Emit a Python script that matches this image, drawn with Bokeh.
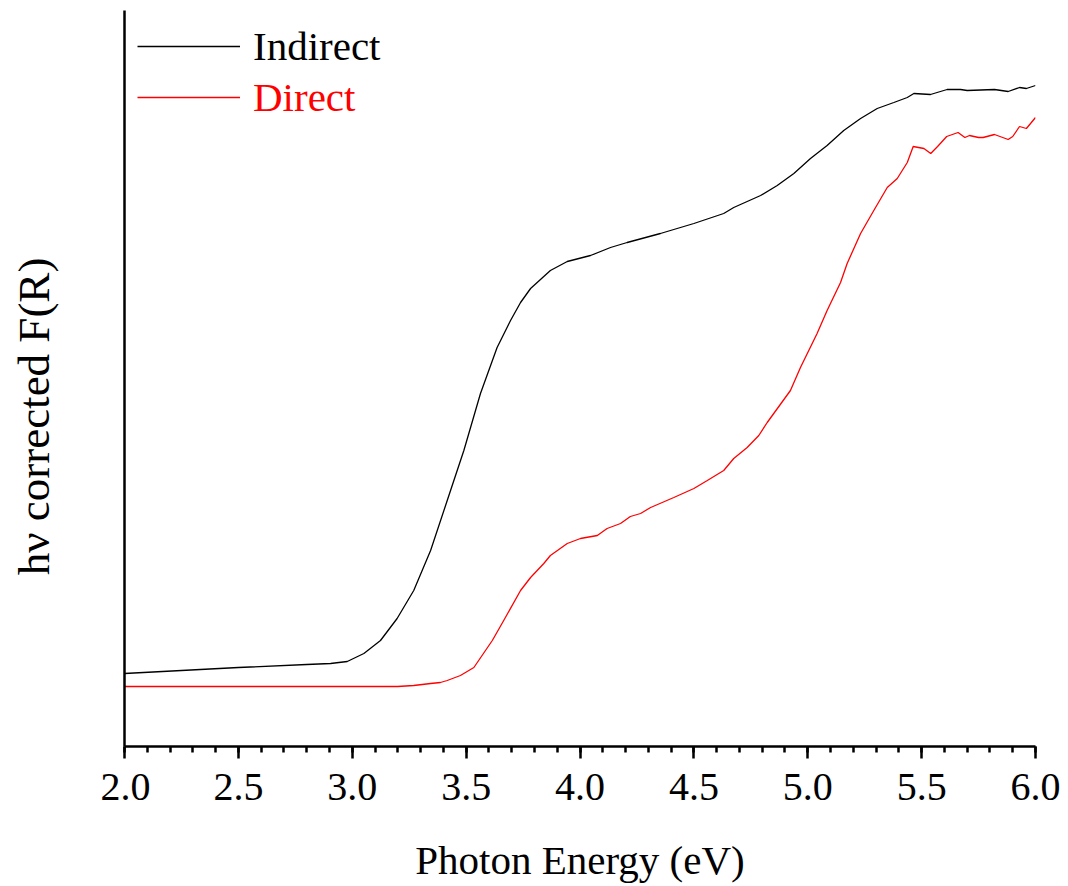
import numpy as np
from bokeh.plotting import figure
from bokeh.layouts import row
from bokeh.models import (FixedTicker, PrintfTickFormatter, Legend, LegendItem,
                          Range1d, Label)
from bokeh.embed import file_html
from bokeh.resources import INLINE

FONT = "Liberation Serif"

# Indirect (black) series
indirect_x = [2.000, 2.500, 2.800, 2.905, 2.978, 3.051, 3.124, 3.197, 3.270, 3.344,
              3.417, 3.490, 3.563, 3.636, 3.695, 3.739, 3.783, 3.870, 3.944, 4.046,
              4.134, 4.207, 4.353, 4.500, 4.631, 4.675, 4.793, 4.866, 4.939, 5.012,
              5.085, 5.158, 5.232, 5.305, 5.378, 5.437, 5.466, 5.539, 5.568, 5.612,
              5.671, 5.700, 5.820, 5.880, 5.930, 5.960, 6.000]
indirect_y = [0.73, 0.79, 0.82, 0.83, 0.85, 0.93, 1.06, 1.28, 1.56, 1.96,
              2.46, 2.96, 3.53, 3.99, 4.26, 4.44, 4.58, 4.76, 4.85, 4.91,
              4.99, 5.04, 5.13, 5.23, 5.33, 5.39, 5.51, 5.61, 5.73, 5.88,
              6.01, 6.16, 6.28, 6.38, 6.44, 6.49, 6.53, 6.52, 6.54, 6.57,
              6.57, 6.56, 6.57, 6.55, 6.59, 6.58, 6.61]

# Direct (red) series
direct_x = [2.000, 2.905, 3.199, 3.270, 3.344, 3.387, 3.417, 3.475, 3.534, 3.615,
            3.665, 3.739, 3.783, 3.841, 3.870, 3.944, 4.002, 4.076, 4.119, 4.178,
            4.221, 4.266, 4.310, 4.412, 4.500, 4.559, 4.631, 4.675, 4.734, 4.785,
            4.822, 4.924, 4.968, 5.041, 5.085, 5.144, 5.173, 5.232, 5.290, 5.349,
            5.393, 5.437, 5.463, 5.510, 5.540, 5.570, 5.610, 5.660, 5.690, 5.710,
            5.750, 5.770, 5.820, 5.880, 5.900, 5.930, 5.960, 6.000]
direct_y = [0.60, 0.60, 0.60, 0.61, 0.63, 0.64, 0.66, 0.71, 0.79, 1.06,
            1.26, 1.56, 1.69, 1.83, 1.91, 2.03, 2.08, 2.11, 2.18, 2.23,
            2.30, 2.33, 2.39, 2.49, 2.58, 2.66, 2.76, 2.88, 2.99, 3.11,
            3.24, 3.56, 3.79, 4.13, 4.36, 4.64, 4.83, 5.13, 5.36, 5.59,
            5.68, 5.84, 6.00, 5.98, 5.93, 6.00, 6.10, 6.14, 6.09, 6.11,
            6.09, 6.09, 6.12, 6.07, 6.10, 6.20, 6.18, 6.29]

major_ticks = [2.0, 2.5, 3.0, 3.5, 4.0, 4.5, 5.0, 5.5, 6.0]
minor_ticks = [round(2.0 + 0.1 * i, 1) for i in range(41)]

# ---- narrow figure holding the y-axis title ----
lab_fig = figure(width=100, height=886, output_backend="svg", toolbar_location=None,
                 x_range=Range1d(0, 1), y_range=Range1d(0, 1),
                 x_axis_location=None, y_axis_location=None,
                 min_border=0, min_border_left=0, min_border_right=0,
                 min_border_top=0, min_border_bottom=0)
lab_fig.outline_line_color = None
lab_fig.grid.visible = False
lab_fig.background_fill_color = "white"
lab_fig.border_fill_color = "white"
ylab = Label(x=33, y=330, x_units="screen", y_units="screen",
             text="hν corrected F(R)", angle=np.pi / 2,
             text_font=FONT, text_font_size="45px", text_color="black",
             text_align="center", text_baseline="middle")
lab_fig.add_layout(ylab)

# ---- main chart ----
p = figure(width=968, height=886, output_backend="svg", toolbar_location=None,
           x_range=Range1d(2.0, 6.0), y_range=Range1d(0, 7.36),
           min_border_left=24, min_border_right=33, min_border_top=10,
           min_border_bottom=140)
p.background_fill_color = "white"
p.border_fill_color = "white"
p.outline_line_color = None
p.grid.visible = False

r_ind = p.line(indirect_x, indirect_y, line_color="black", line_width=1.3)
r_dir = p.line(direct_x, direct_y, line_color="#ff0000", line_width=1.3)

# x axis
xa = p.xaxis[0]
xa.ticker = FixedTicker(ticks=major_ticks, minor_ticks=minor_ticks)
xa.formatter = PrintfTickFormatter(format="%.1f")
xa.axis_line_width = 2.5
xa.major_tick_line_width = 2.5
xa.minor_tick_line_width = 2.5
xa.major_tick_out = 12
xa.major_tick_in = 0
xa.minor_tick_out = 6
xa.minor_tick_in = 0
xa.major_label_text_font = FONT
xa.major_label_text_font_size = "40px"
xa.major_label_text_color = "black"
xa.major_label_standoff = 15
xa.axis_label = "Photon Energy (eV)"
xa.axis_label_text_font = FONT
xa.axis_label_text_font_size = "41px"
xa.axis_label_text_font_style = "normal"
xa.axis_label_text_color = "black"
xa.axis_label_standoff = 34

# y axis: spine only, zero thickness panel
ya = p.yaxis[0]
ya.ticker = FixedTicker(ticks=[])
ya.axis_line_width = 2.5
ya.major_tick_out = 0
ya.major_tick_in = 0
ya.minor_tick_out = 0
ya.minor_tick_in = 0
ya.major_label_standoff = 0
ya.major_tick_line_color = None
ya.minor_tick_line_color = None
ya.major_label_text_font_size = "0px"

common = dict(padding=0, spacing=0, margin=0, glyph_width=103, glyph_height=40,
              label_standoff=13, label_text_font=FONT, label_text_font_size="41px",
              border_line_color=None, background_fill_alpha=0, label_height=40)
leg1 = Legend(items=[LegendItem(label="Indirect", renderers=[r_ind])],
              location=(13, 676), label_text_color="black", **common)
leg2 = Legend(items=[LegendItem(label="Direct", renderers=[r_dir])],
              location=(13, 625), label_text_color="#ff0000", **common)
p.add_layout(leg1)
p.add_layout(leg2)

layout = row(lab_fig, p, spacing=0)
open("out.html", "w").write(file_html(layout, INLINE))
